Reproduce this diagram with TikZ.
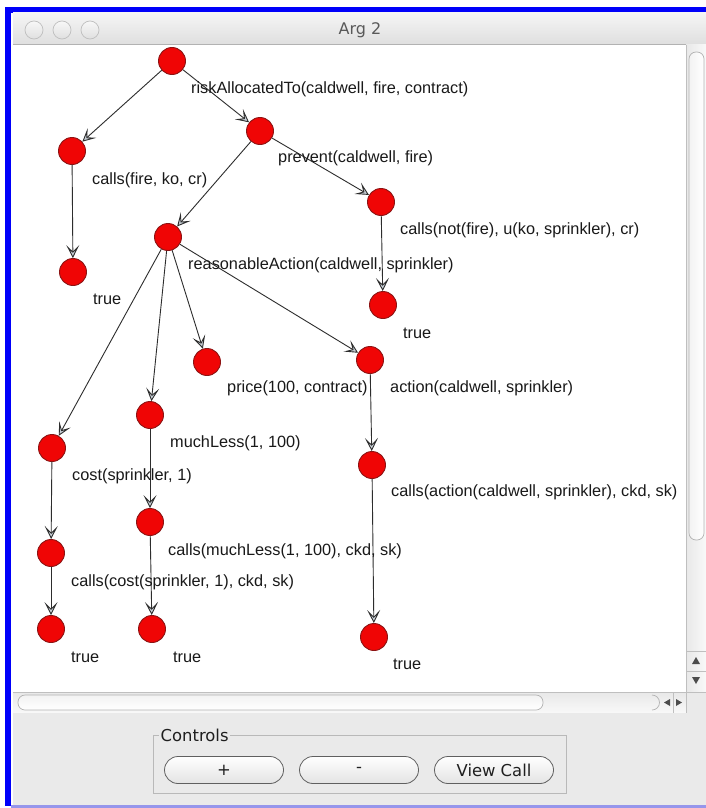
\documentclass[tikz,border=0pt]{standalone}
\usepackage{fontspec}
\setmainfont{Liberation Sans}
\newfontfamily\uifont{DejaVu Sans}
\usetikzlibrary{arrows.meta}
\definecolor{frameblue}{RGB}{0,0,250}
\definecolor{framelav}{RGB}{150,150,235}
\definecolor{nodered}{RGB}{240,5,5}
\definecolor{noderim}{RGB}{140,20,20}
\definecolor{panelgray}{RGB}{234,234,234}
\definecolor{edgegray}{RGB}{45,45,45}
\definecolor{tipfill}{RGB}{200,208,215}
\tikzset{
  tn/.style={circle, draw=noderim, fill=nodered, line width=0.9pt,
             minimum size=27pt, inner sep=0pt},
  lbl/.style={anchor=west, inner sep=0pt, text=black!90,
              font=\fontsize{16.3}{18}\selectfont},
  link/.style={draw=edgegray, line width=0.9pt,
               -{Stealth[length=13pt, width=13pt, inset=6.5pt, fill=tipfill]}},
  uibtn/.style={draw=gray!75!black, line width=0.8pt, rounded corners=13.5pt,
                top color=white, bottom color=gray!22,
                minimum width=119pt, minimum height=27pt},
  uitext/.style={text=black!88, font=\uifont\fontsize{16.4}{18}\selectfont},
  light/.style={circle, draw=gray!50, line width=0.7pt, minimum size=18pt,
                inner sep=0pt, top color=gray!6, bottom color=gray!25}
}
\begin{document}
\begin{tikzpicture}[x=1pt, y=-1pt]
\useasboundingbox (0,0) rectangle (706,808);
\fill[white] (0,0) rectangle (706,808);

% outer frame
\fill[frameblue] (5,7) rectangle (706,13);
\fill[frameblue] (5,7) rectangle (11,806);
\fill[framelav] (11,805) rectangle (706,808);

% window title bar
\shade[top color=gray!8, bottom color=gray!25] (13,13) rectangle (706,44);
\draw[gray!60, line width=0.8pt] (13,44) -- (706,44);
\node[light] (l1) at (34,30) {};
\node[light] (l2) at (62,30) {};
\node[light] (l3) at (90,30) {};
\node[uitext, text=black!65, font=\uifont\fontsize{16}{18}\selectfont] (title) at (360,30) {Arg 2};

% vertical scrollbar
\shade[left color=gray!18, right color=gray!5] (686,45) rectangle (706,692);
\draw[gray!50] (686,45) -- (686,692);
\draw[gray!60, line width=0.7pt, rounded corners=7pt, left color=gray!10, right color=white]
  (689,52) rectangle (704,540);
\draw[gray!50] (686,651) -- (706,651);
\draw[gray!50] (686,671) -- (706,671);
\fill[black!70] (696,657) -- (700,664) -- (692,664) -- cycle;
\fill[black!70] (696,684) -- (700,677) -- (692,677) -- cycle;

% horizontal scrollbar
\shade[top color=gray!18, bottom color=gray!5] (13,692) rectangle (686,713);
\draw[gray!50] (13,692) -- (706,692);
\draw[gray!60, line width=0.7pt, rounded corners=7pt, top color=gray!10, bottom color=white]
  (18,695) rectangle (543,710);
\draw[gray!60, line width=0.7pt] (652,695) arc[start angle=90, end angle=-90, radius=7.5pt];
\draw[gray!50] (673,692) -- (673,713);
\draw[gray!50] (686,692) -- (686,713);
\fill[black!70] (664,702.5) -- (670,699) -- (670,706) -- cycle;
\fill[black!70] (682,702.5) -- (676,699) -- (676,706) -- cycle;
\fill[panelgray] (687,693) rectangle (706,713);

% control panel
\fill[panelgray] (13,713) rectangle (706,805);
\draw[gray!55, line width=0.6pt] (153,735) rectangle (566,793);
\node[uitext, fill=panelgray, inner sep=1.5pt, anchor=west] (ctl) at (159,735) {Controls};
\node[uibtn, uitext] (plus)  at (224,770) {+};
\node[uibtn, uitext] (minus) at (359,770) {-};
\node[uibtn, uitext] (view)  at (494,770) {View Call};

% proof tree nodes
\node[tn] (n1)  at (172,61)  {};
\node[tn] (n2)  at (72,151)  {};
\node[tn] (n3)  at (73,272)  {};
\node[tn] (n4)  at (260,131) {};
\node[tn] (n5)  at (168,237) {};
\node[tn] (n6)  at (381,202) {};
\node[tn] (n7)  at (383,305) {};
\node[tn] (n8)  at (207,362) {};
\node[tn] (n9)  at (370,360) {};
\node[tn] (n10) at (52,448)  {};
\node[tn] (n11) at (150,415) {};
\node[tn] (n12) at (372,465) {};
\node[tn] (n13) at (51,553)  {};
\node[tn] (n14) at (150,522) {};
\node[tn] (n15) at (51,629)  {};
\node[tn] (n16) at (152,629) {};
\node[tn] (n17) at (374,637) {};

% edges
\draw[link] (n1) -- (n2);
\draw[link] (n1) -- (n4);
\draw[link] (n2) -- (n3);
\draw[link] (n4) -- (n5);
\draw[link] (n4) -- (n6);
\draw[link] (n6) -- (n7);
\draw[link] (n5) -- (n10);
\draw[link] (n5) -- (n11);
\draw[link] (n5) -- (n8);
\draw[link] (n5) -- (n9);
\draw[link] (n9) -- (n12);
\draw[link] (n12) -- (n17);
\draw[link] (n10) -- (n13);
\draw[link] (n13) -- (n15);
\draw[link] (n11) -- (n14);
\draw[link] (n14) -- (n16);

% labels
\node[lbl] (t1)  at (191,89)  {riskAllocatedTo(caldwell, fire, contract)};
\node[lbl] (t2)  at (92,180)  {calls(fire, ko, cr)};
\node[lbl] (t3)  at (93,299)  {true};
\node[lbl] (t4)  at (278,158) {prevent(caldwell, fire)};
\node[lbl] (t5)  at (188,265) {reasonableAction(caldwell, sprinkler)};
\node[lbl] (t6)  at (400,230) {calls(not(fire), u(ko, sprinkler), cr)};
\node[lbl] (t7)  at (403,333) {true};
\node[lbl] (t8)  at (227,388) {price(100, contract)};
\node[lbl] (t9)  at (390,388) {action(caldwell, sprinkler)};
\node[lbl] (t10) at (72,476)  {cost(sprinkler, 1)};
\node[lbl] (t11) at (170,443) {muchLess(1, 100)};
\node[lbl] (t12) at (391,492) {calls(action(caldwell, sprinkler), ckd, sk)};
\node[lbl] (t13) at (71,582)  {calls(cost(sprinkler, 1), ckd, sk)};
\node[lbl] (t14) at (168,551) {calls(muchLess(1, 100), ckd, sk)};
\node[lbl] (t15) at (71,657)  {true};
\node[lbl] (t16) at (173,657) {true};
\node[lbl] (t17) at (393,664) {true};
\end{tikzpicture}
\end{document}
